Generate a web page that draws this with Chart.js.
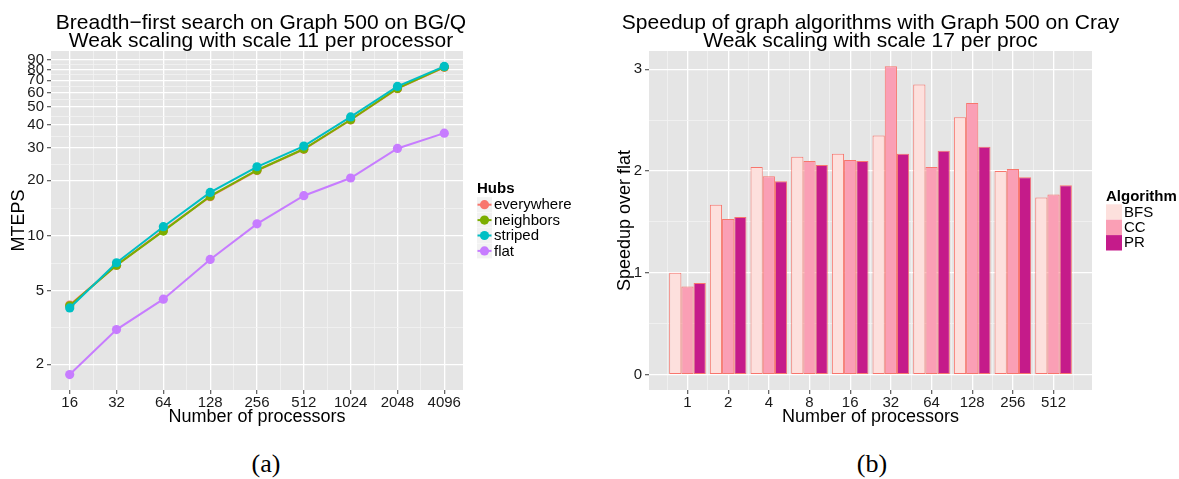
<!DOCTYPE html>
<html>
<head>
<meta charset="utf-8">
<script src="https://cdn.jsdelivr.net/npm/chart.js@4"></script>
<style>
body { margin: 0; background: #fff; width: 1179px; height: 479px; position: relative; overflow: hidden; }
#caja-a { position: absolute; left: 0; top: 0; }
#caja-b { position: absolute; left: 590px; top: 0; }
.rotulo { position: absolute; top: 451px; font-family: "Liberation Serif", "Times New Roman", serif; font-size: 26px; line-height: 1; transform: translateX(-50%); }
</style>
</head>
<body>
<div id="caja-a"><canvas id="grafico-bfs" width="590" height="440"></canvas></div>
<div id="caja-b"><canvas id="grafico-speedup" width="589" height="440"></canvas></div>
<div class="rotulo" style="left:266px">(a)</div>
<div class="rotulo" style="left:872px">(b)</div>
<script>
// (a) BFS en BG/Q
const procesadores_bfs = [16, 32, 64, 128, 256, 512, 1024, 2048, 4096];
const everywhere = [4.2, 6.9, 10.7, 16.3, 22.6, 29.5, 42.6, 63.0, 82.3];
const neighbors = [4.16, 6.92, 10.6, 16.4, 22.7, 29.6, 42.7, 63.2, 82.6];
const striped = [4.05, 7.13, 11.2, 17.2, 23.7, 30.7, 44.2, 64.8, 83.2];
const flat = [1.76, 3.09, 4.52, 7.43, 11.6, 16.5, 20.6, 29.8, 36.1];
const ticks_mteps = [2, 5, 10, 20, 30, 40, 50, 60, 70, 80, 90];

// (b) speedup en Cray
const procesadores_speedup = [1, 2, 4, 8, 16, 32, 64, 128, 256, 512];
const bfs = [1.0, 1.67, 2.04, 2.14, 2.17, 2.35, 2.85, 2.53, 2.0, 1.74];
const cc = [0.865, 1.53, 1.95, 2.1, 2.11, 3.03, 2.04, 2.67, 2.02, 1.77];
const pr = [0.9, 1.55, 1.9, 2.06, 2.1, 2.17, 2.2, 2.24, 1.94, 1.86];
const ticks_speedup = [0, 1, 2, 3];

const fuente = '"Liberation Sans", Arial, Helvetica, sans-serif';
const colorTexto = '#1a1a1a';

// mayores + menores (punto medio en escala log o lineal)
function ticksConMenores(mayores, log, extra) {
    let res = [];
    for (let i = 0; i < mayores.length; i++) {
        res.push({ value: mayores[i], menor: false });
        if (i < mayores.length - 1) {
            const m = log ? Math.sqrt(mayores[i] * mayores[i + 1]) : (mayores[i] + mayores[i + 1]) / 2;
            res.push({ value: m, menor: true });
        }
    }
    (extra || []).forEach(v => res.push({ value: v, menor: true }));
    return res.sort((a, b) => a.value - b.value);
}

const rejilla = {
    offset: false,
    color: ctx => (ctx.tick && ctx.tick.menor) ? '#F2F2F2' : '#FFFFFF',
    lineWidth: ctx => (ctx.tick && ctx.tick.menor) ? 0.8 : 1.3,
    tickColor: ctx => (ctx.tick && ctx.tick.menor) ? 'rgba(0,0,0,0)' : '#666',
    tickLength: 4
};

function etiquetas(value, index, ticks) {
    return ticks[index].menor ? '' : String(value);
}

const fondoPanel = {
    id: 'fondoPanel',
    beforeDraw(chart) {
        const { ctx, chartArea: a } = chart;
        ctx.save();
        ctx.fillStyle = '#E5E5E5';
        ctx.fillRect(a.left, a.top, a.right - a.left, a.bottom - a.top);
        ctx.restore();
    }
};

function tituloDosLineas(lineas, dx) {
    return {
        id: 'tituloDosLineas',
        afterDraw(chart) {
            const { ctx, chartArea: a } = chart;
            ctx.save();
            ctx.font = '21px ' + fuente;
            ctx.fillStyle = '#000';
            ctx.textAlign = 'center';
            ctx.textBaseline = 'alphabetic';
            lineas.forEach((t, i) => ctx.fillText(t, (a.left + a.right) / 2 + dx, 28.5 + i * 18.6));
            ctx.restore();
        }
    };
}

function leyenda(titulo, x, yTitulo, y0, paso, tipo) {
    return {
        id: 'leyendaPropia',
        afterDraw(chart) {
            const ctx = chart.ctx;
            ctx.save();
            ctx.font = 'bold 15px ' + fuente;
            ctx.fillStyle = '#000';
            ctx.textAlign = 'left';
            ctx.textBaseline = 'alphabetic';
            ctx.fillText(titulo, x, yTitulo);
            chart.data.datasets.forEach((ds, i) => {
                const yc = y0 + i * paso;
                if (tipo === 'linea') {
                    ctx.fillStyle = '#F2F2F2';
                    ctx.fillRect(x, yc - 7.5, 15, 15);
                    ctx.strokeStyle = ds.borderColor;
                    ctx.lineWidth = 2;
                    ctx.beginPath(); ctx.moveTo(x + 0.5, yc); ctx.lineTo(x + 14.5, yc); ctx.stroke();
                    ctx.fillStyle = ds.backgroundColor;
                    ctx.beginPath(); ctx.arc(x + 7.5, yc, 4.6, 0, 2 * Math.PI); ctx.fill();
                } else {
                    ctx.fillStyle = ds.backgroundColor;
                    ctx.fillRect(x, yc - paso / 2, 16, paso);
                }
                ctx.fillStyle = '#000';
                ctx.font = '15px ' + fuente;
                ctx.textBaseline = 'middle';
                ctx.fillText(ds.label, x + (tipo === 'linea' ? 17 : 18), yc + 0.5);
            });
            ctx.restore();
        }
    };
}

function serie(nombre, valores, color, orden) {
    return {
        label: nombre,
        data: valores,
        borderColor: color,
        backgroundColor: color,
        borderWidth: 2,
        pointRadius: 4.6,
        pointBorderWidth: 0,
        pointBackgroundColor: color,
        order: orden
    };
}

new Chart(document.getElementById('grafico-bfs'), {
    type: 'line',
    data: {
        labels: procesadores_bfs,
        datasets: [
            serie('everywhere', everywhere, '#F8766D', 4),
            serie('neighbors', neighbors, '#7CAE00', 3),
            serie('striped', striped, '#00BFC4', 2),
            serie('flat', flat, '#C77CFF', 1)
        ]
    },
    options: {
        responsive: false,
        animation: false,
        layout: { padding: { top: 51, right: 127, bottom: 10, left: 0 } },
        plugins: { legend: { display: false }, tooltip: { enabled: false } },
        scales: {
            x: {
                type: 'logarithmic',
                min: 12.13,
                max: 5404,
                afterFit(s) { s.height = 40; },
                afterBuildTicks(s) { s.ticks = ticksConMenores(procesadores_bfs, true); },
                grid: rejilla,
                border: { display: false },
                ticks: { autoSkip: false, maxRotation: 0, padding: 0, color: colorTexto, font: { family: fuente, size: 15 }, callback: etiquetas },
                title: { display: true, text: 'Number of processors', color: '#000', font: { family: fuente, size: 18 }, padding: { top: 0, bottom: 2 } }
            },
            y: {
                type: 'logarithmic',
                min: 1.451,
                max: 100.9,
                afterFit(s) { s.width = 51; },
                afterBuildTicks(s) { s.ticks = ticksConMenores(ticks_mteps, true); },
                grid: rejilla,
                border: { display: false },
                ticks: { autoSkip: false, padding: 3, color: colorTexto, font: { family: fuente, size: 15 }, callback: etiquetas },
                title: { display: true, text: 'MTEPS', color: '#000', font: { family: fuente, size: 18 }, padding: { top: 8, bottom: 0 } }
            }
        }
    },
    plugins: [fondoPanel,
        tituloDosLineas(['Breadth\u2212first search on Graph 500 on BG/Q', 'Weak scaling with scale 11 per processor'], 4),
        leyenda('Hubs', 477, 193, 204.7, 15.4, 'linea')]
});

function barras(nombre, valores, color) {
    return {
        label: nombre,
        data: valores,
        backgroundColor: color,
        borderColor: '#F8766D',
        borderWidth: 1,
        borderSkipped: false
    };
}

new Chart(document.getElementById('grafico-speedup'), {
    type: 'bar',
    data: {
        labels: procesadores_speedup,
        datasets: [
            barras('BFS', bfs, '#FDE0DD'),
            barras('CC', cc, '#FA9FB5'),
            barras('PR', pr, '#C51B8A')
        ]
    },
    options: {
        responsive: false,
        animation: false,
        // the minor ticks halve the sample spacing, so 1.8 = 0.9 of a group step
        categoryPercentage: 1.8,
        barPercentage: 1.0,
        layout: { padding: { top: 51, right: 87, bottom: 10, left: 0 } },
        plugins: { legend: { display: false }, tooltip: { enabled: false } },
        scales: {
            x: {
                type: 'logarithmic',
                offset: false,
                min: 0.519,
                max: 986,
                afterFit(s) { s.height = 40; },
                afterBuildTicks(s) { s.ticks = ticksConMenores(procesadores_speedup, true, [Math.SQRT1_2, 512 * Math.SQRT2]); },
                grid: rejilla,
                border: { display: false },
                ticks: { autoSkip: false, maxRotation: 0, padding: 0, color: colorTexto, font: { family: fuente, size: 15 }, callback: etiquetas },
                title: { display: true, text: 'Number of processors', color: '#000', font: { family: fuente, size: 18 }, padding: { top: 0, bottom: 2 } }
            },
            y: {
                type: 'linear',
                min: -0.151,
                max: 3.18,
                afterFit(s) { s.width = 59; },
                afterBuildTicks(s) { s.ticks = ticksConMenores(ticks_speedup, false); },
                grid: rejilla,
                border: { display: false },
                ticks: { autoSkip: false, padding: 3, color: colorTexto, font: { family: fuente, size: 15 }, callback: etiquetas },
                title: { display: true, text: 'Speedup over flat', color: '#000', font: { family: fuente, size: 18 }, padding: { top: 24, bottom: 0 } }
            }
        }
    },
    plugins: [fondoPanel,
        tituloDosLineas(['Speedup of graph algorithms with Graph 500 on Cray', 'Weak scaling with scale 17 per proc'], 0),
        leyenda('Algorithm', 516, 201, 212, 15.4, 'barra')]
});
</script>
</body>
</html>
